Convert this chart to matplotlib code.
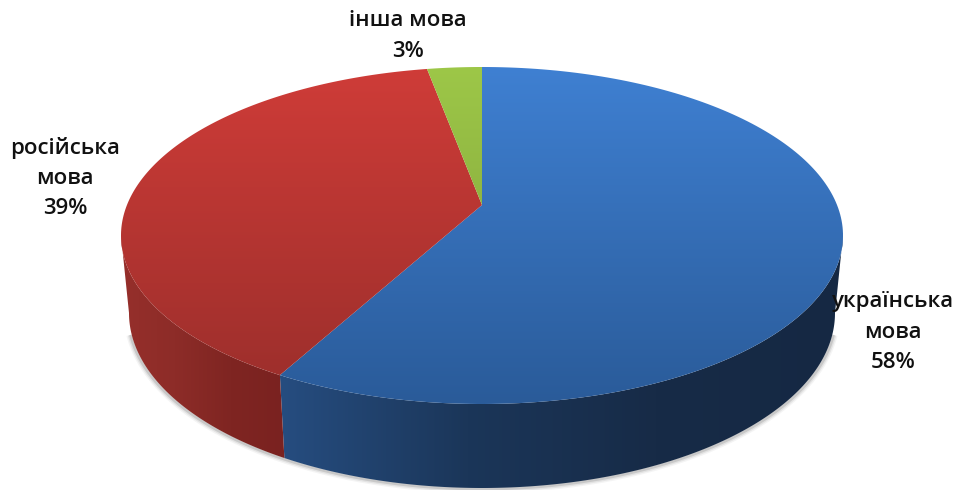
import numpy as np
import matplotlib
matplotlib.use("Agg")
import matplotlib.pyplot as plt
from matplotlib.patches import Polygon
from matplotlib.colors import LinearSegmentedColormap

categories = ["українська\nмова", "російська\nмова", "інша мова"]
values = [58, 39, 3]
top_colors = [("#3f80d2", "#2a5b99"), ("#cf3c38", "#9a2e2b"), ("#9dc748", "#7c9c38")]
wall_colors = {0: ["#264d80", "#1b3659", "#172b47", "#152843"],
               1: ["#962f2b", "#8d2c28", "#7f2522", "#7a2220"]}
label_pos = [(893, 332), (65, 178), (408, 36)]

CX, CY, RX, RY = 482, 235.5, 361, 168.5
BX, BY, BRX, BRY = 482, 313, 353, 175
APEX = (482, 205)
W = 0.19


def warp(t):
    return t - W * np.sin(t)


def arc(t0, t1, cx, cy, rx, ry, n=200):
    t = np.linspace(t0, t1, n)
    return np.column_stack([cx + rx * np.sin(t), cy - ry * np.cos(t)])


fig = plt.figure(figsize=(9.57, 4.9), dpi=100, facecolor="white")
ax = fig.add_axes([0, 0, 1, 1])
ax.axis("off")


def grad(poly, colors, extent, vertical):
    cmap = LinearSegmentedColormap.from_list("g", colors)
    g = np.linspace(0, 1, 256)
    g = g[:, None] if vertical else g[None, :]
    im = ax.imshow(g, cmap=cmap, extent=extent, aspect="auto", origin="upper",
                   interpolation="bilinear", zorder=poly[1])
    patch = Polygon(poly[0], closed=True, transform=ax.transData, fc="none", ec="none")
    ax.add_patch(patch)
    im.set_clip_path(patch)


fr = np.cumsum([0] + values) / sum(values) * 2 * np.pi
edges = warp(fr)

# soft shadow under the lower rim
rim = arc(np.pi / 2 + 0.12, 3 * np.pi / 2 - 0.12, BX, BY + 1, BRX + 1, BRY)
for lw, a in [(6, 0.06), (4, 0.10), (2, 0.18)]:
    ax.plot(rim[:, 0], rim[:, 1], color="#505050", lw=lw, alpha=a, zorder=1,
            solid_capstyle="butt")

# side walls
wall_ranges = [(np.pi / 2, edges[1]), (edges[1], 3 * np.pi / 2)]
wall_extents = [(279, 845, 490, 200), (120, 286, 490, 200)]
for i, (t0, t1) in enumerate(wall_ranges):
    pts = np.vstack([arc(t0, t1, CX, CY, RX, RY), arc(t1, t0, BX, BY, BRX, BRY)])
    grad((pts, 2), wall_colors[i], wall_extents[i], False)

# top faces
for i in range(len(values)):
    pts = np.vstack([[APEX], arc(edges[i], edges[i + 1], CX, CY, RX, RY)])
    grad((pts, 3), top_colors[i], (120, 845, 404, 67), True)

for name, v, (x, y) in zip(categories, values, label_pos):
    ax.text(x, y, f"{name}\n{v}%", ha="center", va="center", ma="center",
            family=["Open Sans", "DejaVu Sans"], fontsize=16, weight="semibold",
            color="#111111", linespacing=1.58, zorder=5)

ax.set_xlim(0, 957)
ax.set_ylim(490, 0)
fig.savefig("out.png", dpi=100, facecolor="white")
